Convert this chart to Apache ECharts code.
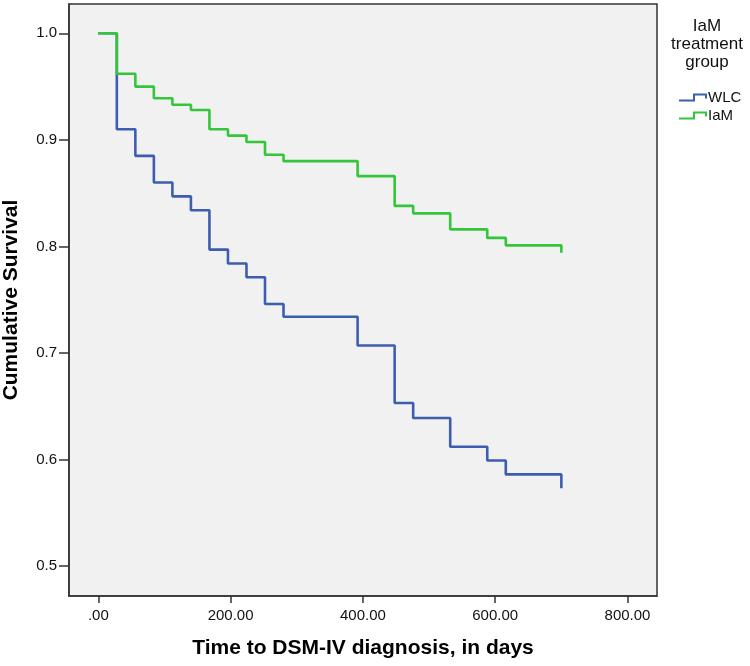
<!DOCTYPE html>
<html>
<head>
<meta charset="utf-8">
<script src="https://cdn.jsdelivr.net/npm/echarts@6/dist/echarts.min.js"></script>
<style>html,body{margin:0;padding:0;background:#fff}#c{width:750px;height:666px}</style>
</head>
<body>
<div id="c"></div>
<script>
// Time points (days) at which survival steps occur
const wlcTimes = [0, 28, 56, 84, 112, 140, 168, 196, 224, 252, 280, 392, 448, 476, 532, 588, 616, 700];
const wlcSurvival = [1.0, 0.910, 0.885, 0.860, 0.847, 0.834, 0.797, 0.784, 0.771, 0.746, 0.734, 0.707, 0.653, 0.639, 0.612, 0.599, 0.586, 0.573];
const iamTimes = [0, 28, 56, 84, 112, 140, 168, 196, 224, 252, 280, 392, 448, 476, 532, 588, 616, 700];
const iamSurvival = [1.0, 0.962, 0.950, 0.939, 0.933, 0.928, 0.910, 0.904, 0.898, 0.886, 0.880, 0.866, 0.838, 0.831, 0.816, 0.808, 0.801, 0.794];
const xTicks = [0, 200, 400, 600, 800];
const yTicks = [0.5, 0.6, 0.7, 0.8, 0.9, 1.0];
const seriesNames = ['WLC', 'IaM'];
const legendTitle = 'IaM\ntreatment\ngroup';

const FONT = "'Liberation Sans', Arial, sans-serif";
const chart = echarts.init(document.getElementById('c'));
const pairs = (t, s) => t.map((v, i) => [v, s[i]]);
const iconPath = 'path://M0,6 L14,6 L14,0 L28,0 L28,5 L26,5 L26,2 L16,2 L16,8 L0,8 Z';

chart.setOption({
  animation: false,
  backgroundColor: '#ffffff',
  textStyle: { fontFamily: FONT },
  grid: {
    left: 69, top: 4, right: 93, bottom: 70,
    outerBoundsMode: 'none', containLabel: false,
    show: true, backgroundColor: '#f1f1f1', borderColor: '#333', borderWidth: 1.5
  },
  graphic: [{
    type: 'text', x: 707, y: 17,
    style: { text: legendTitle, align: 'center', verticalAlign: 'top', fontSize: 17, lineHeight: 18, fill: '#111', fontFamily: FONT },
    z: 10
  }],
  legend: {
    orient: 'vertical', left: 674, top: 85,
    itemWidth: 28, itemHeight: 8, itemGap: 3,
    icon: iconPath,
    itemStyle: { borderWidth: 0 },
    textStyle: { fontSize: 15, color: '#111', fontFamily: FONT, padding: [0, 0, 0, -4] },
    data: seriesNames
  },
  xAxis: {
    type: 'value', min: -44.3, max: 844.6,
    name: 'Time to DSM-IV diagnosis, in days', nameLocation: 'middle', nameGap: 42,
    nameTextStyle: { fontSize: 21, fontWeight: 'bold', color: '#000', fontFamily: FONT },
    axisLine: { show: true, onZero: false, lineStyle: { color: '#333', width: 1.5 } },
    axisTick: { show: true, length: 7, customValues: xTicks, lineStyle: { color: '#333', width: 1.5 } },
    axisLabel: {
      customValues: xTicks, margin: 12, fontSize: 15, color: '#111', fontFamily: FONT,
      formatter: v => v === 0 ? '.00' : v.toFixed(2)
    },
    splitLine: { show: false }
  },
  yAxis: {
    type: 'value', min: 0.4719, max: 1.0275,
    name: 'Cumulative Survival', nameLocation: 'middle', nameGap: 47,
    nameTextStyle: { fontSize: 21, fontWeight: 'bold', color: '#000', fontFamily: FONT },
    axisLine: { show: true, onZero: false, lineStyle: { color: '#333', width: 1.5 } },
    axisTick: { show: true, length: 10, customValues: yTicks, lineStyle: { color: '#333', width: 1.5 } },
    axisLabel: {
      customValues: yTicks, margin: 12, fontSize: 15, color: '#111', fontFamily: FONT,
      formatter: v => v.toFixed(1)
    },
    splitLine: { show: false }
  },
  series: [
    {
      name: seriesNames[0], type: 'line', step: 'end', symbol: 'none',
      data: pairs(wlcTimes, wlcSurvival),
      itemStyle: { color: '#3d5eae' },
      lineStyle: { color: '#3d5eae', width: 2.6 }
    },
    {
      name: seriesNames[1], type: 'line', step: 'end', symbol: 'none',
      data: pairs(iamTimes, iamSurvival),
      itemStyle: { color: '#33c63a' },
      lineStyle: { color: '#33c63a', width: 2.6 }
    }
  ]
});
</script>
</body>
</html>
